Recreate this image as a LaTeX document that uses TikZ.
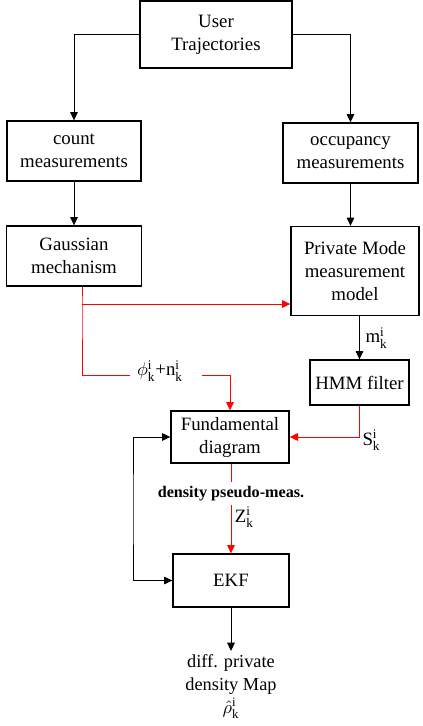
\documentclass[tikz,border=0pt]{standalone}
\usepackage{amsmath}
\usepackage{fontspec}
\setmainfont{Liberation Serif}
\usetikzlibrary{arrows.meta}

\begin{document}
\begin{tikzpicture}[x=0.6pt,y=-0.6pt]
\def\boxfont{\fontsize{11.3}{13.8}\selectfont}
\def\labelfont{\fontsize{9.7}{11}\selectfont\bfseries}
\def\outfont{\fontsize{11}{13.8}\selectfont}
\def\flowcolor{red}
\newcommand{\ik}[1]{#1$^{\text{i}}_{\text{k}}$}
\tikzset{
  block/.style 2 args={draw, line width=0.8pt, minimum width=#1*0.6pt, minimum height=#2*0.6pt, inner sep=0pt, align=center, font=\boxfont},
  arr/.style={-{Triangle[length=5pt,width=4.6pt]}, line width=0.6pt},
  redline/.style={line width=0.6pt, draw=\flowcolor},
  redarr/.style={arr, draw=\flowcolor},
  arrboth/.style={{Triangle[length=5pt,width=4.6pt]}-{Triangle[length=5pt,width=4.6pt]}, line width=0.6pt}
}
\useasboundingbox (0,0) rectangle (423,726);

% TOP PART
\node[block={152}{67}] (traj) at (216,34.5) {User\\Trajectories};
\node[block={134}{60}] (count) at (74,151) {count\\measurements};
\node[block={135}{60}] (occ) at (350.5,153) {occupancy\\measurements};
\node[block={135}{60}] (gauss) at (74,256) {Gaussian\\mechanism};
\node[block={128}{89}] (pmm) at (355,271) {Private Mode\\measurement\\model};

\draw[arr] (traj.west) -| (count.north);
\draw[arr] (traj.east) -| (occ.north);
\draw[arr] (count) -- (gauss);
\draw[arr] (occ.south) -- (occ.south |- pmm.north);

% MIDDLE PART
\node[block={99}{45}] (hmm) at (359.5,382.5) {HMM filter};
\node[block={118}{52}] (fund) at (230,437) {Fundamental\\diagram};
\coordinate (gsplit) at (82,304);
\coordinate (phil) at (130,375);
\coordinate (phir) at (202,375);
\node[font=\boxfont, inner sep=0pt] (phin) at (160,371) {$\phi^{\text{i}}_{\text{k}}$+\ik{n}};

\draw[redline] (gauss.south -| gsplit) -- (gsplit) |- (phil);
\draw[redarr] (gsplit) -- (gsplit -| pmm.west);
\draw[redarr] (phir) -| (fund.north);
\draw[arr] (hmm.north |- pmm.south) -- node[right, font=\boxfont] (mlab) {\ik{m}} (hmm.north);
\draw[redarr] (hmm.south) |- node[pos=0.5, anchor=west, yshift=-2pt, font=\boxfont, inner sep=1.5pt] (slab) {\ik{S}} (fund.east);

% BOTTOM PART
\node[block={116}{53}] (ekf) at (231,580.5) {EKF};
\coordinate (fb) at (133,510);
\node[font=\outfont, align=center, anchor=north, inner sep=2pt] (out) at (231,651) {diff. private\\density Map\\$\hat{\rho}^{\text{i}}_{\text{k}}$};

\draw[redarr] (ekf.north |- fund.south) -- node[pos=0.33, fill=white, inner xsep=2pt, inner ysep=2.5pt, font=\labelfont] (dlab) {density pseudo-meas.} node[pos=0.6, right, font=\boxfont, inner sep=2pt] (zlab) {\ik{Z}} (ekf.north);
\draw[arrboth] (fund.west) -| (fb) |- (ekf.west);
\draw[arr] (ekf.south) -- (out.north);
\end{tikzpicture}
\end{document}
